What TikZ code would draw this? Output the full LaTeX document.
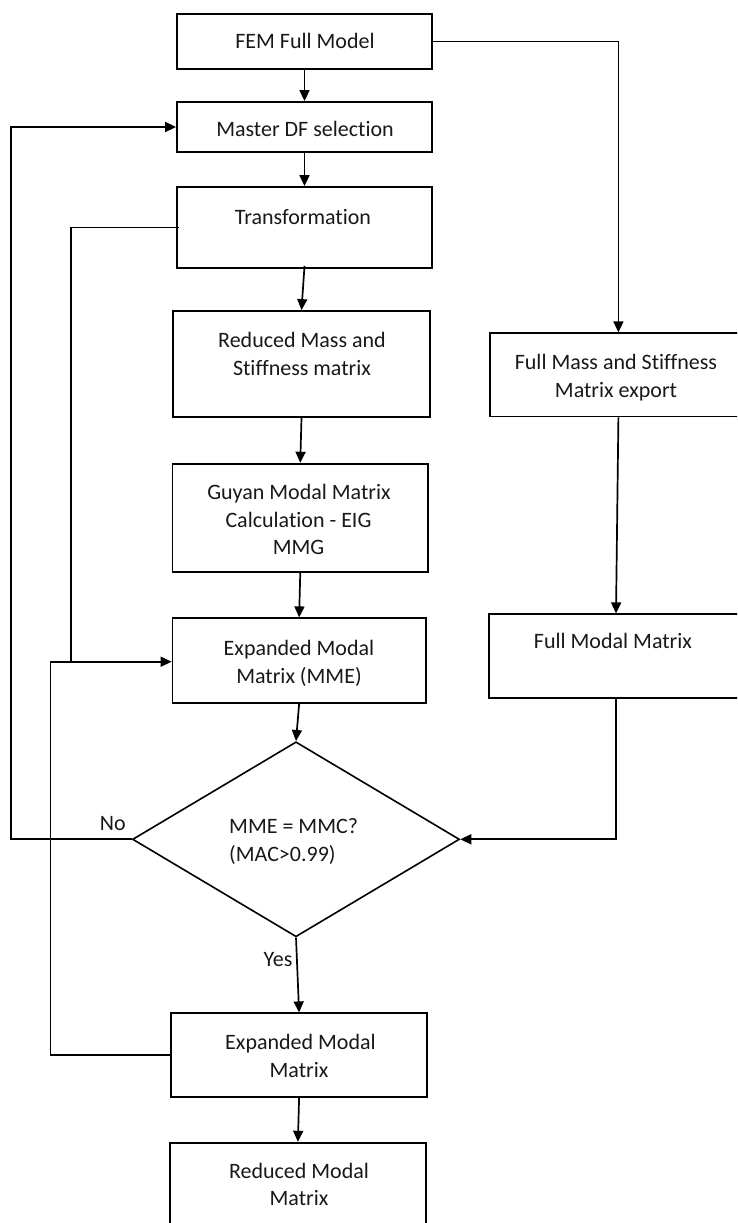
\documentclass[tikz,border=0pt]{standalone}
\usepackage{fontspec}
\setmainfont{Carlito}[Ligatures=NoCommon]
\usetikzlibrary{arrows.meta,shapes.geometric}
\tikzset{
  box/.style={draw=black, line width=1.8pt, rectangle, inner sep=0pt},
  dia/.style={draw=black, line width=1.6pt, diamond, inner sep=0pt},
  conn/.style={draw=black, line width=1.7pt},
  arr/.style={conn, -{Triangle[length=11pt,width=10pt]}},
  txt/.style={anchor=base, inner sep=0pt, font=\fontsize{22}{27.5}\selectfont, text=black!90},
}
\begin{document}
\begin{tikzpicture}[x=1pt,y=-1pt]
\useasboundingbox (0,0) rectangle (737,1223);
\clip (0,0) rectangle (737,1223);
\fill[white] (0,0) rectangle (737,1223);

% boxes
\node[box, minimum width=255pt, minimum height=55pt] (fem) at (304.5,41.5) {};
\node[box, minimum width=255pt, minimum height=50pt] (master) at (304.5,127) {};
\node[box, minimum width=255pt, minimum height=81pt] (trans) at (304.5,227.5) {};
\node[box, minimum width=257pt, minimum height=106pt] (redmass) at (301.5,364) {};
\node[box, minimum width=255.5pt, minimum height=108.3pt] (guyan) at (300.25,517.85) {};
\node[box, minimum width=253.3pt, minimum height=84.4pt] (mme) at (299.15,660.5) {};
\node[box, minimum width=256.8pt, minimum height=83.2pt] (fullmass) at (618.4,374.9) {};
\node[box, minimum width=254pt, minimum height=84pt] (fullmodal) at (616,656.3) {};
\node[dia, minimum width=327pt, minimum height=195pt] (check) at (296,839.3) {};
\node[box, minimum width=256.2pt, minimum height=83.4pt] (expmod) at (299.1,1055) {};
\node[box, minimum width=255.8pt, minimum height=97.3pt] (redmodal) at (297.9,1191.35) {};

% texts
\node[txt] (t1) at (305,48.7) {FEM Full Model};
\node[txt] (t2) at (305,136.5) {Master DF selection};
\node[txt] (t3) at (303,224) {Transformation};
\node[txt] (t4a) at (302,347.7) {Reduced Mass and};
\node[txt] (t4b) at (302,375.3) {Stiffness matrix};
\node[txt] (t5a) at (299,499.7) {Guyan Modal Matrix};
\node[txt] (t5b) at (298.5,527) {Calculation - EIG};
\node[txt] (t5c) at (298.5,554.3) {MMG};
\node[txt] (t6a) at (299,655.5) {Expanded Modal};
\node[txt] (t6b) at (299,683) {Matrix (MME)};
\node[txt] (t7a) at (616,369.3) {Full Mass and Stiffness};
\node[txt] (t7b) at (616,397) {Matrix export};
\node[txt] (t8) at (613,648.7) {Full Modal Matrix};
\node[txt, anchor=base west] (t9a) at (229,833) {MME = MMC?};
\node[txt, anchor=base west] (t9b) at (229,861) {(MAC>0.99)};
\node[txt] (t10a) at (300.5,1049.7) {Expanded Modal};
\node[txt] (t10b) at (299,1077) {Matrix};
\node[txt] (t11a) at (299,1178) {Reduced Modal};
\node[txt] (t11b) at (299,1205.3) {Matrix};
\node[txt] (lno) at (112.8,830.3) {No};
\node[txt] (lyes) at (278,966) {Yes};

% coordinates for loops
\coordinate (noL) at (10.8,839.3);
\coordinate (exL) at (50.5,661.7);
\coordinate (trL) at (70.7,661.7);

% connectors
\draw[arr] (fem.south) -- (master.north);
\draw[arr] (master.south) -- (trans.north);
\draw[arr] ([yshift=3pt]trans.south) -- (redmass.north);
\draw[arr] (redmass.south) -- (guyan.north);
\draw[arr] (guyan.south) -- (mme.north);
\draw[arr] (mme.south) -- (check.north);
\draw[arr] (check.south) -- (expmod.north);
\draw[arr] (expmod.south) -- (redmodal.north);
\draw[arr] (fem.east) -| (fullmass.north);
\draw[arr] (fullmass.south) -- (fullmodal.north);
\draw[arr] (fullmodal.south) |- (check.east);
\draw[arr] (check.west) -- (noL) |- (master.west);
\draw[conn] ([xshift=2.5pt]trans.west) -| (trL);
\draw[arr] (expmod.west) -| (exL) -- (exL -| mme.west);
\end{tikzpicture}
\end{document}
